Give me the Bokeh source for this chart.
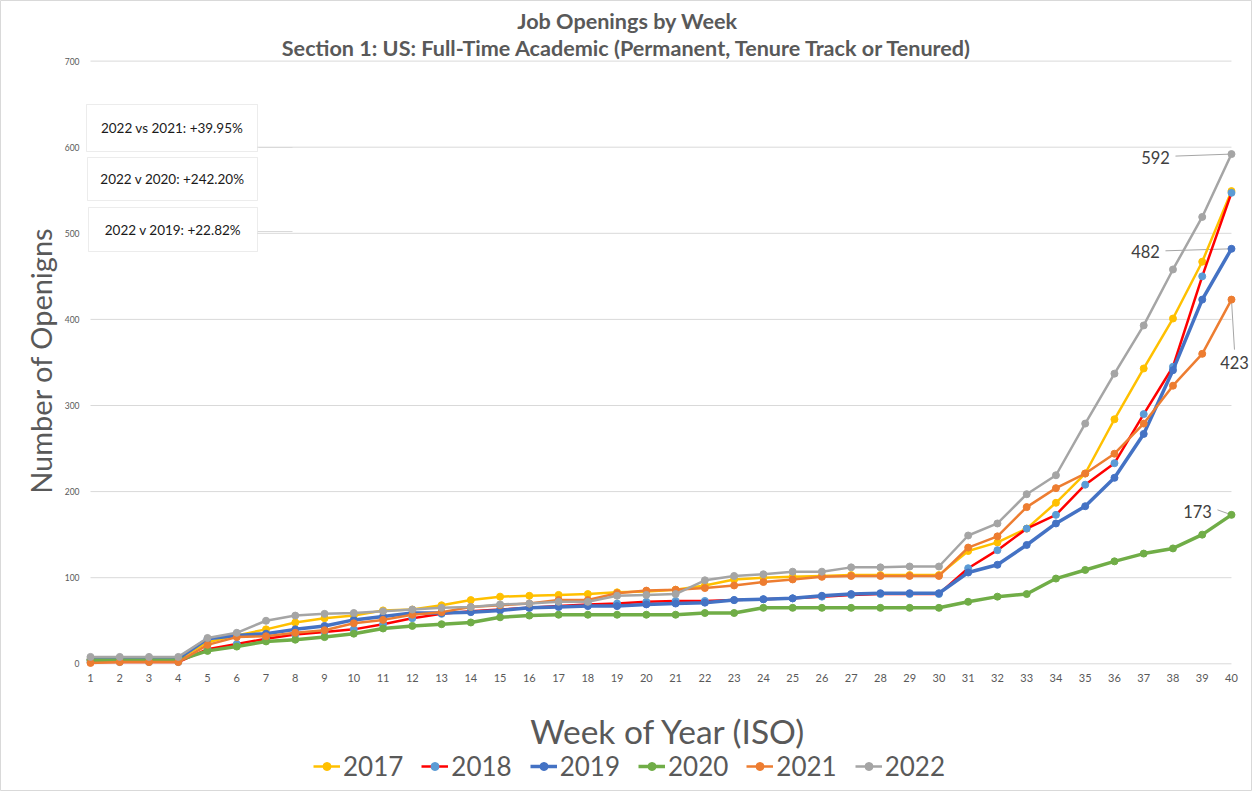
import math
from bokeh.plotting import figure
from bokeh.models import Range1d, Label, Legend, LegendItem, BoxAnnotation
from bokeh.core.properties import value
from bokeh.embed import file_html
from bokeh.resources import INLINE

# ---------------- data ----------------
weeks = list(range(1, 41))
y2017 = [5, 5, 5, 5, 25, 33, 40, 48, 53, 56, 62, 63, 68, 74, 78, 79, 80, 81, 83, 84,
         86, 91, 98, 100, 101, 102, 103, 103, 103, 103, 131, 141, 157, 187, 221, 284, 343, 401, 467, 549]
y2018 = [2, 2, 2, 2, 17, 23, 29, 34, 37, 40, 46, 53, 58, 61, 63, 65, 67, 69, 70, 72,
         73, 73, 74, 75, 76, 78, 80, 81, 81, 81, 111, 132, 157, 173, 208, 233, 290, 345, 450, 547]
y2019 = [5, 6, 6, 6, 29, 33, 35, 40, 44, 51, 55, 59, 59, 60, 62, 65, 66, 67, 67, 69,
         70, 71, 74, 75, 76, 79, 81, 82, 82, 82, 106, 115, 138, 163, 183, 216, 267, 341, 423, 482]
y2020 = [4, 4, 4, 4, 15, 20, 26, 28, 31, 35, 41, 44, 46, 48, 54, 56, 57, 57, 57, 57,
         57, 59, 59, 65, 65, 65, 65, 65, 65, 65, 72, 78, 81, 99, 109, 119, 128, 134, 150, 173]
y2021 = [1, 2, 2, 2, 22, 31, 32, 36, 39, 47, 51, 57, 60, 66, 68, 70, 74, 74, 82, 85,
         86, 88, 91, 95, 98, 101, 102, 102, 102, 102, 135, 148, 182, 204, 221, 244, 279, 323, 360, 423]
y2022 = [8, 8, 8, 8, 30, 36, 50, 56, 58, 59, 61, 63, 65, 66, 69, 70, 72, 72, 79, 80,
         81, 97, 102, 104, 107, 107, 112, 112, 113, 113, 149, 163, 197, 219, 279, 337, 393, 458, 519, 592]

series_names = ["2017", "2018", "2019", "2020", "2021", "2022"]
series_values = [y2017, y2018, y2019, y2020, y2021, y2022]
line_colors = ["#FFC000", "#FF0000", "#4472C4", "#70AD47", "#ED7D31", "#A5A5A5"]
marker_colors = ["#FFC000", "#5B9BD5", "#4472C4", "#70AD47", "#ED7D31", "#A5A5A5"]
line_widths = [2.5, 2.5, 3.5, 3.5, 2.5, 2.5]

x_tick_labels = ["1", "2", "3", "4", "5", "6", "7", "8", "9", "10", "11", "12", "13", "14",
                 "15", "16", "17", "18", "19", "20", "21", "22", "23", "24", "25", "26", "27",
                 "28", "29", "30", "31", "32", "33", "34", "35", "36", "37", "38", "39", "40"]
y_ticks = [0, 100, 200, 300, 400, 500, 600, 700]
y_tick_labels = ["0", "100", "200", "300", "400", "500", "600", "700"]
title_text = "Job Openings by Week"
subtitle_text = "Section 1: US: Full-Time Academic (Permanent, Tenure Track or Tenured)"
x_label = "Week of Year (ISO)"
y_label = "Number of Openigns"

FONT = "Lato"
GREY_TXT = "#595959"

# pixel scale of the reference chart, used to place annotations
PX_W = 29.256   # px per week
PX_V = 0.861    # px per opening
def wk(px):
    return 1 + (px - 90) / PX_W
def val(py):
    return (663.3 - py) / PX_V

W, H = 1252, 791
p = figure(width=W, height=H,
           x_range=Range1d(wk(0), wk(W)), y_range=Range1d(val(H), val(0)),
           output_backend="svg", toolbar_location=None,
           min_border_left=0, min_border_right=0, min_border_top=0, min_border_bottom=0)
p.xaxis.visible = False
p.yaxis.visible = False
p.xgrid.visible = False
p.ygrid.visible = False
p.outline_line_color = "#D9D9D9"
p.background_fill_color = "white"
p.border_fill_color = "white"

# gridlines spanning week 1..40
p.segment(x0=[weeks[0]] * len(y_ticks), x1=[weeks[-1]] * len(y_ticks), y0=y_ticks, y1=y_ticks,
          line_color="#D9D9D9", line_width=1)

# tick labels
p.text(x=weeks, y=[val(677)] * len(weeks), text=x_tick_labels, text_align="center",
       text_baseline="middle", text_font=value(FONT), text_font_size="11px", text_color=GREY_TXT)
p.text(x=[wk(79)] * len(y_ticks), y=y_ticks, text=y_tick_labels, text_align="right",
       text_baseline="middle", text_font=value(FONT), text_font_size="8.5px", text_color=GREY_TXT)

# axis titles
p.add_layout(Label(x=wk(668), y=val(730), text=x_label, text_align="center", text_baseline="middle",
                   text_font=FONT, text_font_size="33.5px", text_color=GREY_TXT))
p.add_layout(Label(x=wk(40), y=val(360), text=y_label, angle=math.pi / 2, text_align="center",
                   text_baseline="middle", text_font=FONT, text_font_size="29px", text_color=GREY_TXT))

items = []
for name, vals, lc, mc, lw in zip(series_names, series_values, line_colors, marker_colors, line_widths):
    lr = p.line(weeks, vals, line_color=lc, line_width=lw, line_join="round")
    sr = p.scatter(weeks, vals, size=7, fill_color=mc, line_color=mc)
    items.append(LegendItem(label=name, renderers=[lr, sr]))

# titles
for txt, py in [(title_text, 20), (subtitle_text, 47)]:
    p.add_layout(Label(x=wk(627), y=val(py), text=txt, text_align="center", text_baseline="middle",
                       text_font=FONT, text_font_style="bold", text_font_size="21.6px",
                       text_color=GREY_TXT))

# comparison boxes (percentages computed from the data)
last = y2022[-1]
comparisons = [
    ("2022 vs 2021: +%.2f%%" % ((last / y2021[-1] - 1) * 100), (86, 257, 104, 151)),
    ("2022 v 2020: +%.2f%%" % ((last / y2020[-1] - 1) * 100), (87, 257, 157, 200)),
    ("2022 v 2019: +%.2f%%" % ((last / y2019[-1] - 1) * 100), (88, 257, 207, 251)),
]
for txt, (l, r, t, b) in comparisons:
    p.add_layout(BoxAnnotation(left=wk(l), right=wk(r), top=val(t), bottom=val(b),
                               fill_color="white", fill_alpha=1, line_color="#BFBFBF", line_width=1))
    p.add_layout(Label(x=wk((l + r) / 2), y=val((t + b) / 2), text=txt, text_align="center",
                       text_baseline="middle", text_font=FONT, text_font_size="13.5px",
                       text_color="#1A1A1A"))
# faint connector stubs on two of the boxes
p.segment(x0=[wk(258), wk(257)], x1=[wk(292), wk(292)], y0=[val(147), val(231)], y1=[val(147), val(231)],
          line_color="#D9D9D9", line_width=1)

# end-of-line data labels with leader lines (offsets in px: right / down)
end_labels = [
    (y2022, (-76, 3), (-56, 2)),
    (y2019, (-86, 3), (-66, 2)),
    (y2021, (3, 63), (3, 50)),
    (y2020, (-34, -3), (-14, -5)),
]
lx0, lx1, ly0, ly1 = [], [], [], []
for vals, (dx, dy), (ex, ey) in end_labels:
    xw, yv = weeks[-1], vals[-1]
    p.add_layout(Label(x=xw, y=yv, x_offset=dx, y_offset=-dy, text=str(yv), text_align="center",
                       text_baseline="middle", text_font=FONT, text_font_size="16.5px",
                       text_color="#404040"))
    lx0.append(xw); ly0.append(yv)
    lx1.append(xw + ex / PX_W); ly1.append(yv - ey / PX_V)
p.segment(x0=lx0, x1=lx1, y0=ly0, y1=ly1, line_color="#A6A6A6", line_width=1, level="underlay")

legend = Legend(items=items, orientation="horizontal", location=(313, 9),
                label_text_font=FONT, label_text_font_size="26px", label_text_color=GREY_TXT,
                glyph_width=27, glyph_height=20, label_standoff=3, spacing=18,
                border_line_color=None, background_fill_alpha=0, padding=0, margin=0)
p.add_layout(legend, "center")

open("out.html", "w").write(file_html(p, INLINE))
